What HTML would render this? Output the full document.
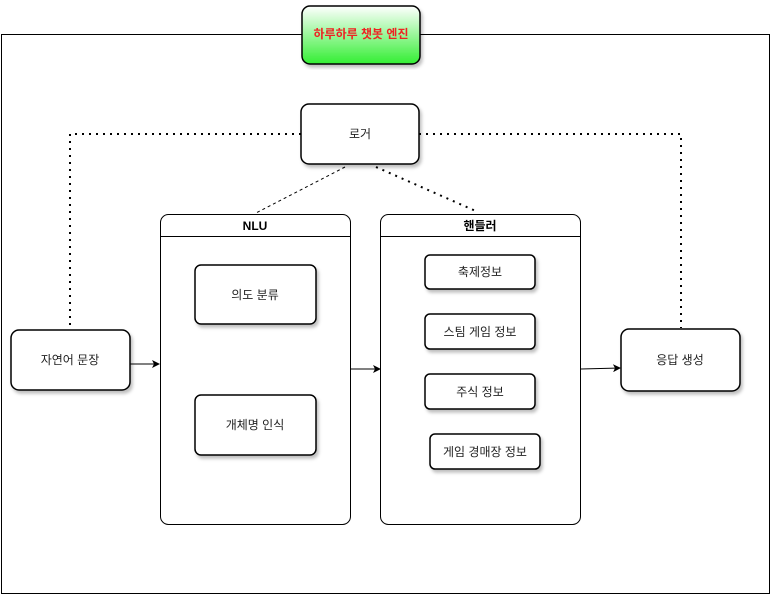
<!DOCTYPE html>
<html><head><meta charset="utf-8"><style>
html,body{margin:0;padding:0;background:#fff;}
svg{display:block;font-family:"Liberation Sans","Noto Sans CJK KR",sans-serif;}
</style></head><body>
<svg width="771" height="595" viewBox="0 0 771 595">
<defs>
<linearGradient id="g" x1="0" y1="0" x2="0" y2="1"><stop offset="0" stop-color="#fff"/><stop offset="1" stop-color="#33ee33"/></linearGradient>
<marker id="a" markerWidth="8" markerHeight="8" refX="7" refY="4" orient="auto" markerUnits="userSpaceOnUse"><path d="M0,0 L8,4 L0,8 L2,4 Z" fill="#000"/></marker>
<filter id="s"><feDropShadow dx="2" dy="3" stdDeviation="1.5" flood-opacity="0.25"/></filter>
</defs>
<path d="M302,34.5 H1.5 V593.5 H769.5 V34.5 H420" fill="none" stroke="#000" stroke-width="1"/>
<path d="M301,134 H70 V330" fill="none" stroke="#000" stroke-width="2" stroke-dasharray="2 5"/>
<path d="M419,134 H681 V328" fill="none" stroke="#000" stroke-width="2" stroke-dasharray="2 5"/>
<path d="M345,167 L256,213" stroke="#000" stroke-dasharray="3 3"/>
<path d="M376,167 L478,212" stroke="#000" stroke-width="2" stroke-dasharray="2 5"/>
<rect x="302" y="6" width="118" height="58" rx="8" fill="url(#g)" stroke="#000" stroke-width="1.5" filter="url(#s)"/>
<text x="361" y="38" text-anchor="middle" font-size="12" font-weight="bold" fill="#ee2222">하루하루 챗봇 엔진</text>
<g fill="#fff" stroke="#000" stroke-width="1.5" filter="url(#s)">
<rect x="301" y="104" width="118" height="60" rx="8"/>
<rect x="11" y="330" width="119" height="60" rx="8"/>
<rect x="621" y="329" width="119" height="62" rx="8"/>
</g>
<g fill="#fff" stroke="#000">
<rect x="160.5" y="214.5" width="190" height="310" rx="8"/>
<rect x="380.5" y="214.5" width="200" height="310" rx="8"/>
</g>
<line x1="160" y1="236.5" x2="351" y2="236.5" stroke="#000"/>
<line x1="380" y1="236.5" x2="581" y2="236.5" stroke="#000"/>
<g fill="#fff" stroke="#000" stroke-width="1.5" filter="url(#s)">
<rect x="195" y="265" width="121" height="59" rx="6"/>
<rect x="195" y="395" width="121" height="60" rx="6"/>
<rect x="425" y="255" width="110" height="34" rx="5"/>
<rect x="425" y="314" width="110" height="35" rx="5"/>
<rect x="425" y="374" width="110" height="35" rx="5"/>
<rect x="430" y="434" width="110" height="35" rx="5"/>
</g>
<g stroke="#000" marker-end="url(#a)">
<line x1="130" y1="364" x2="159" y2="364"/>
<line x1="351" y1="369" x2="380" y2="369"/>
<line x1="581" y1="369" x2="620" y2="368"/>
</g>
<g font-size="12" text-anchor="middle" fill="#222">
<text x="360" y="138">로거</text>
<text x="70" y="364">자연어 문장</text>
<text x="680" y="364">응답 생성</text>
<text x="255" y="299">의도 분류</text>
<text x="255" y="429">개체명 인식</text>
<text x="480" y="276">축제정보</text>
<text x="480" y="336">스팀 게임 정보</text>
<text x="480" y="396">주식 정보</text>
<text x="485" y="456">게임 경매장 정보</text>
<text x="255" y="230" font-weight="bold" fill="#000">NLU</text>
<text x="480" y="230" font-weight="bold" fill="#000">핸들러</text>
</g>
</svg>
</body></html>
